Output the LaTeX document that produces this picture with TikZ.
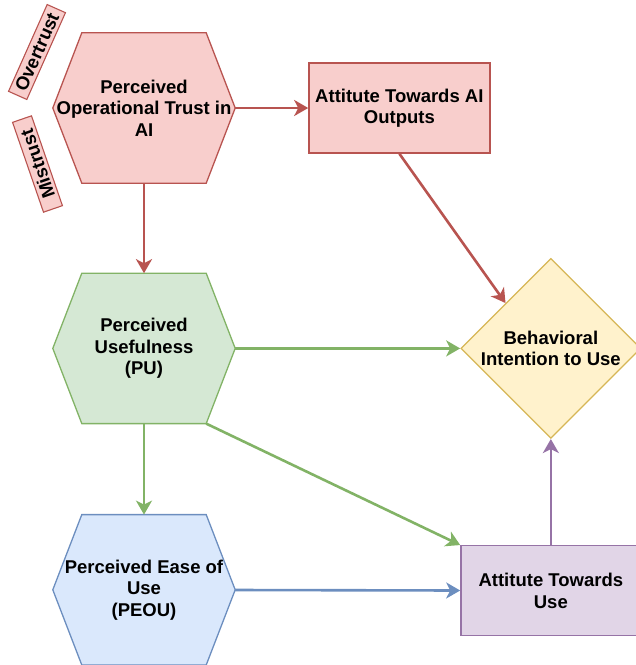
\documentclass[tikz,border=0pt]{standalone}
\usepackage{fontspec}
\setmainfont{Liberation Sans}
\usepackage{xcolor}
\usepackage{tikz}
\usetikzlibrary{arrows.meta,positioning,shapes.geometric,backgrounds}
\definecolor{redline}{HTML}{B85450}
\definecolor{redfill}{HTML}{F8CECC}
\definecolor{greenline}{HTML}{82B366}
\definecolor{greenfill}{HTML}{D5E8D4}
\definecolor{blueline}{HTML}{6C8EBF}
\definecolor{bluefill}{HTML}{DAE8FC}
\definecolor{yellowline}{HTML}{D6B656}
\definecolor{yellowfill}{HTML}{FFF2CC}
\definecolor{purpleline}{HTML}{9673A6}
\definecolor{purplefill}{HTML}{E1D5E7}

% hexagon outline behind a hexstep node: node, stroke, fill
\newcommand{\hexframe}[3]{%
  \draw[line width=1.3pt,draw=#2,fill=#3] (#1.west) -- ([xshift=29pt]#1.north west)
    -- ([xshift=-29pt]#1.north east) -- (#1.east) -- ([xshift=-29pt]#1.south east)
    -- ([xshift=29pt]#1.south west) -- cycle;}

\begin{document}
\begin{tikzpicture}[
  x=1pt,y=-1pt,
  every node/.style={font=\bfseries\fontsize{18.5}{21.5}\selectfont},
  hexstep/.style={rectangle,minimum width=182pt,minimum height=150pt,inner sep=0pt,align=center},
  boxstep/.style={rectangle,line width=1.3pt,minimum width=181pt,minimum height=90pt,inner sep=0pt,align=center},
  decidestep/.style={diamond,line width=1.3pt,draw=yellowline,fill=yellowfill,minimum width=180pt,
               minimum height=180pt,inner sep=0pt,align=center},
  tagstep/.style={rectangle,line width=1.1pt,draw=redline,fill=redfill,minimum width=95pt,
               minimum height=20pt,inner sep=0pt},
  arr/.style={-{Stealth[length=14pt,width=16pt,inset=4pt]},line width=2.6pt}
]
\useasboundingbox (0,0) rectangle (636,665);

\node[hexstep] (trust) at (144,108) {Perceived\\Operational Trust in\\AI};
\node[boxstep,draw=redline,fill=redfill,right=73pt of trust] (atai) {Attitute Towards AI\\Outputs};
\node[hexstep,below=90pt of trust] (pu) {Perceived\\Usefulness\\(PU)};
\node[hexstep,below=91pt of pu] (peou) {Perceived Ease of\\Use\\(PEOU)};
\node[decidestep,right=225pt of pu] (bi) {Behavioral\\Intention to Use};
\node[boxstep,draw=purpleline,fill=purplefill,minimum width=180pt,below=106pt of bi] (atu) {Attitute Towards\\Use};

\node[tagstep,rotate=66] (over) at (37,52) {Overtrust};
\node[tagstep,rotate=109] (mis) at (37.5,164) {Mistrust};

\begin{pgfonlayer}{background}
  \hexframe{trust}{redline}{redfill}
  \hexframe{pu}{greenline}{greenfill}
  \hexframe{peou}{blueline}{bluefill}
\end{pgfonlayer}

\draw[arr,redline] (trust) -- (atai);
\draw[arr,redline] (trust) -- (pu);
\draw[arr,redline] (atai.south) -- (bi.north west);
\draw[arr,greenline] (pu.east) -- (bi.west);
\draw[arr,greenline] (pu) -- (peou);
\draw[arr,greenline] ([xshift=-29pt]pu.south east) -- (atu.north west);
\draw[arr,blueline] (peou) -- (atu);
\draw[arr,purpleline] (atu) -- (bi);
\end{tikzpicture}
\end{document}
